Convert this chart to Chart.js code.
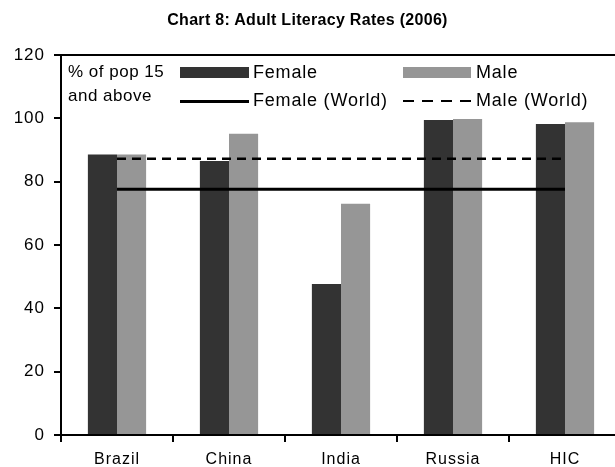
<!DOCTYPE html>
<html>
<head>
<meta charset="utf-8">
<script src="https://cdn.jsdelivr.net/npm/chart.js@4"></script>
<style>
  html, body { margin: 0; padding: 0; background: #fff; overflow: hidden; }
  body { width: 615px; height: 467px; position: relative; font-family: "Liberation Sans", Arial, sans-serif; color: #000; }
  #title { position: absolute; left: 0; top: 11px; width: 615px; text-align: center; font-weight: bold; font-size: 16px; letter-spacing: 0.3px; }
  #wrap { position: absolute; left: 0; top: 0; width: 626px; height: 467px; }
  .lg { position: absolute; font-size: 18px; line-height: 20px; letter-spacing: 0.8px; white-space: nowrap; }
  .note { font-size: 17px; letter-spacing: 0.5px; }
  .sw { position: absolute; height: 11px; }
  .ln { position: absolute; }
</style>
</head>
<body>
<div id="wrap"><canvas id="chart" width="626" height="467"></canvas></div>
<div id="title">Chart 8: Adult Literacy Rates (2006)</div>

<div class="lg note" style="left:68px; top:62px;">% of pop 15</div>
<div class="lg note" style="left:68px; top:86px;">and above</div>
<div class="sw" style="left:180px; top:67px; width:69px; background:#333333;"></div>
<div class="lg" style="left:253px; top:62px;">Female</div>
<div class="sw" style="left:403px; top:67px; width:68px; background:#969696;"></div>
<div class="lg" style="left:476px; top:62px;">Male</div>
<div class="ln" style="left:180px; top:100px; width:69px; height:3px; background:#000;"></div>
<div class="lg" style="left:253px; top:90px;">Female (World)</div>
<div class="ln" style="left:403px; top:100px; width:68px; height:2px; background:repeating-linear-gradient(90deg, #000 0 11px, transparent 11px 19px);"></div>
<div class="lg" style="left:476px; top:90px;">Male (World)</div>

<script>
const categories = ['Brazil', 'China', 'India', 'Russia', 'HIC'];
const femaleRates = [88.6, 86.5, 47.7, 99.5, 98.2];
const maleRates = [88.6, 95.1, 73.0, 99.8, 98.8];
const femaleWorld = [77.6, 77.6, 77.6, 77.6, 77.6];
const maleWorld = [87.2, 87.2, 87.2, 87.2, 87.2];
const yTicks = [0, 20, 40, 60, 80, 100, 120];

const FONT = "'Liberation Sans', Arial, sans-serif";

// spaced-out axis text like the original
const spacing = {
    id: 'spacing',
    beforeDraw(chart) { chart.ctx.letterSpacing = '1px'; }
};

// top border of the plot area
const topBorder = {
    id: 'topBorder',
    afterDraw(chart) {
        const { ctx, chartArea } = chart;
        ctx.save();
        ctx.strokeStyle = '#000';
        ctx.lineWidth = 2;
        ctx.beginPath();
        ctx.moveTo(chartArea.left, chartArea.top);
        ctx.lineTo(chartArea.right + 10, chartArea.top);
        ctx.stroke();
        ctx.restore();
    }
};

new Chart(document.getElementById('chart'), {
    data: {
        labels: categories,
        datasets: [
            { type: 'line', label: 'Female (World)', data: femaleWorld, borderColor: '#000', borderWidth: 3, pointRadius: 0, fill: false, order: 0 },
            { type: 'line', label: 'Male (World)', data: maleWorld, borderColor: '#000', borderWidth: 2.5, borderDash: [9, 6], pointRadius: 0, fill: false, order: 0 },
            { type: 'bar', label: 'Female', data: femaleRates, backgroundColor: '#333333', categoryPercentage: 0.52, barPercentage: 1, order: 1 },
            { type: 'bar', label: 'Male', data: maleRates, backgroundColor: '#969696', categoryPercentage: 0.52, barPercentage: 1, order: 1 }
        ]
    },
    options: {
        responsive: false,
        animation: false,
        layout: { padding: { top: 55, right: 5, left: 0, bottom: 0 } },
        plugins: { legend: { display: false }, tooltip: { enabled: false }, title: { display: false } },
        scales: {
            x: {
                offset: true,
                grid: { offset: true, drawOnChartArea: false, color: '#000', tickLength: 7, lineWidth: 2 },
                border: { color: '#000', width: 2 },
                ticks: { color: '#000', font: { family: FONT, size: 16 }, padding: 8 },
                afterFit(scale) { scale.height = 32; }
            },
            y: {
                min: 0, max: 120,
                afterBuildTicks(scale) { scale.ticks = yTicks.map(v => ({ value: v })); },
                grid: { drawOnChartArea: false, color: '#000', tickLength: 7, lineWidth: 2 },
                border: { color: '#000', width: 2 },
                ticks: { color: '#000', font: { family: FONT, size: 17 }, padding: 9 },
                afterFit(scale) { scale.width = 61; }
            }
        }
    },
    plugins: [spacing, topBorder]
});
</script>
</body>
</html>
